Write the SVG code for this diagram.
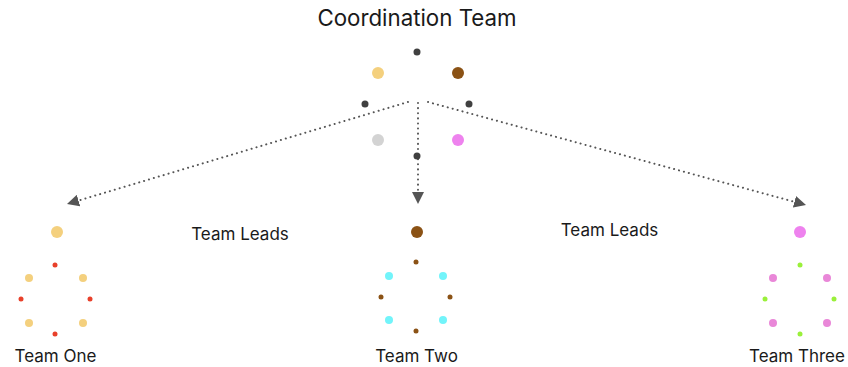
<svg xmlns="http://www.w3.org/2000/svg" width="848" height="367" viewBox="0 0 848 367">
<defs>
<style>
text{font-family:Inter,"Noto Sans","Liberation Sans",sans-serif;fill:#1a1a1a}
.title{font-size:22.3px}
.lbl{font-size:17px}
.conn{stroke:#555;stroke-width:2;stroke-dasharray:0.1 5;stroke-linecap:round;fill:none}
.dk{fill:#404040}
</style>
<marker id="arr" viewBox="0 0 10 10" refX="10" refY="5" markerWidth="12" markerHeight="12" markerUnits="userSpaceOnUse" orient="auto">
<path d="M0,0 L10,5 L0,10 z" fill="#555"/>
</marker>
</defs>
<rect width="848" height="367" fill="#fff"/>
<g id="connectors">
<path class="conn" d="M408,102 L67,204" marker-end="url(#arr)"/>
<path class="conn" d="M418,103 L418,204" marker-end="url(#arr)"/>
<path class="conn" d="M428,102 L806,205" marker-end="url(#arr)"/>
</g>
<g id="coordination">
<text class="title" x="417" y="26" text-anchor="middle">Coordination Team</text>
<circle class="dk" cx="417" cy="52" r="3.5"/>
<circle class="dk" cx="365" cy="104" r="3.5"/>
<circle class="dk" cx="469" cy="104" r="3.5"/>
<circle class="dk" cx="417" cy="156" r="3.5"/>
<circle cx="378" cy="73" r="6" fill="#f4d07e"/>
<circle cx="458" cy="73" r="6" fill="#8b5215"/>
<circle cx="378" cy="140" r="6" fill="#d3d3d3"/>
<circle cx="458" cy="140" r="6" fill="#ee82ee"/>
</g>
<g id="leads-left"><text class="lbl" x="240" y="239.5" text-anchor="middle">Team Leads</text></g>
<g id="leads-right"><text class="lbl" x="609.5" y="236" text-anchor="middle">Team Leads</text></g>
<g id="team-one">
<circle cx="57" cy="232" r="6" fill="#f4d07e"/>
<g fill="#e8402a">
<circle cx="55" cy="265" r="2.5"/><circle cx="21" cy="299" r="2.5"/><circle cx="90" cy="299" r="2.5"/><circle cx="55" cy="334" r="2.5"/>
</g>
<g fill="#f4d07e">
<circle cx="29" cy="278" r="4"/><circle cx="83" cy="278" r="4"/><circle cx="29" cy="323" r="4"/><circle cx="83" cy="323" r="4"/>
</g>
<text class="lbl" x="55.5" y="362" text-anchor="middle">Team One</text>
</g>
<g id="team-two">
<circle cx="417" cy="232" r="6" fill="#8b5215"/>
<g fill="#8b5215">
<circle cx="416" cy="262" r="2.5"/><circle cx="381" cy="297" r="2.5"/><circle cx="450" cy="297" r="2.5"/><circle cx="416" cy="331" r="2.5"/>
</g>
<g fill="#72f4fa">
<circle cx="389" cy="276" r="4"/><circle cx="443" cy="276" r="4"/><circle cx="389" cy="320" r="4"/><circle cx="443" cy="320" r="4"/>
</g>
<text class="lbl" x="416.5" y="362" text-anchor="middle">Team Two</text>
</g>
<g id="team-three">
<circle cx="800" cy="232" r="6" fill="#ee82ee"/>
<g fill="#9af03a">
<circle cx="800" cy="265" r="2.5"/><circle cx="765" cy="299" r="2.5"/><circle cx="834" cy="299" r="2.5"/><circle cx="800" cy="334" r="2.5"/>
</g>
<g fill="#e987d8">
<circle cx="773" cy="278" r="4"/><circle cx="827" cy="278" r="4"/><circle cx="773" cy="323" r="4"/><circle cx="827" cy="323" r="4"/>
</g>
<text class="lbl" x="797" y="362" text-anchor="middle">Team Three</text>
</g>
</svg>
